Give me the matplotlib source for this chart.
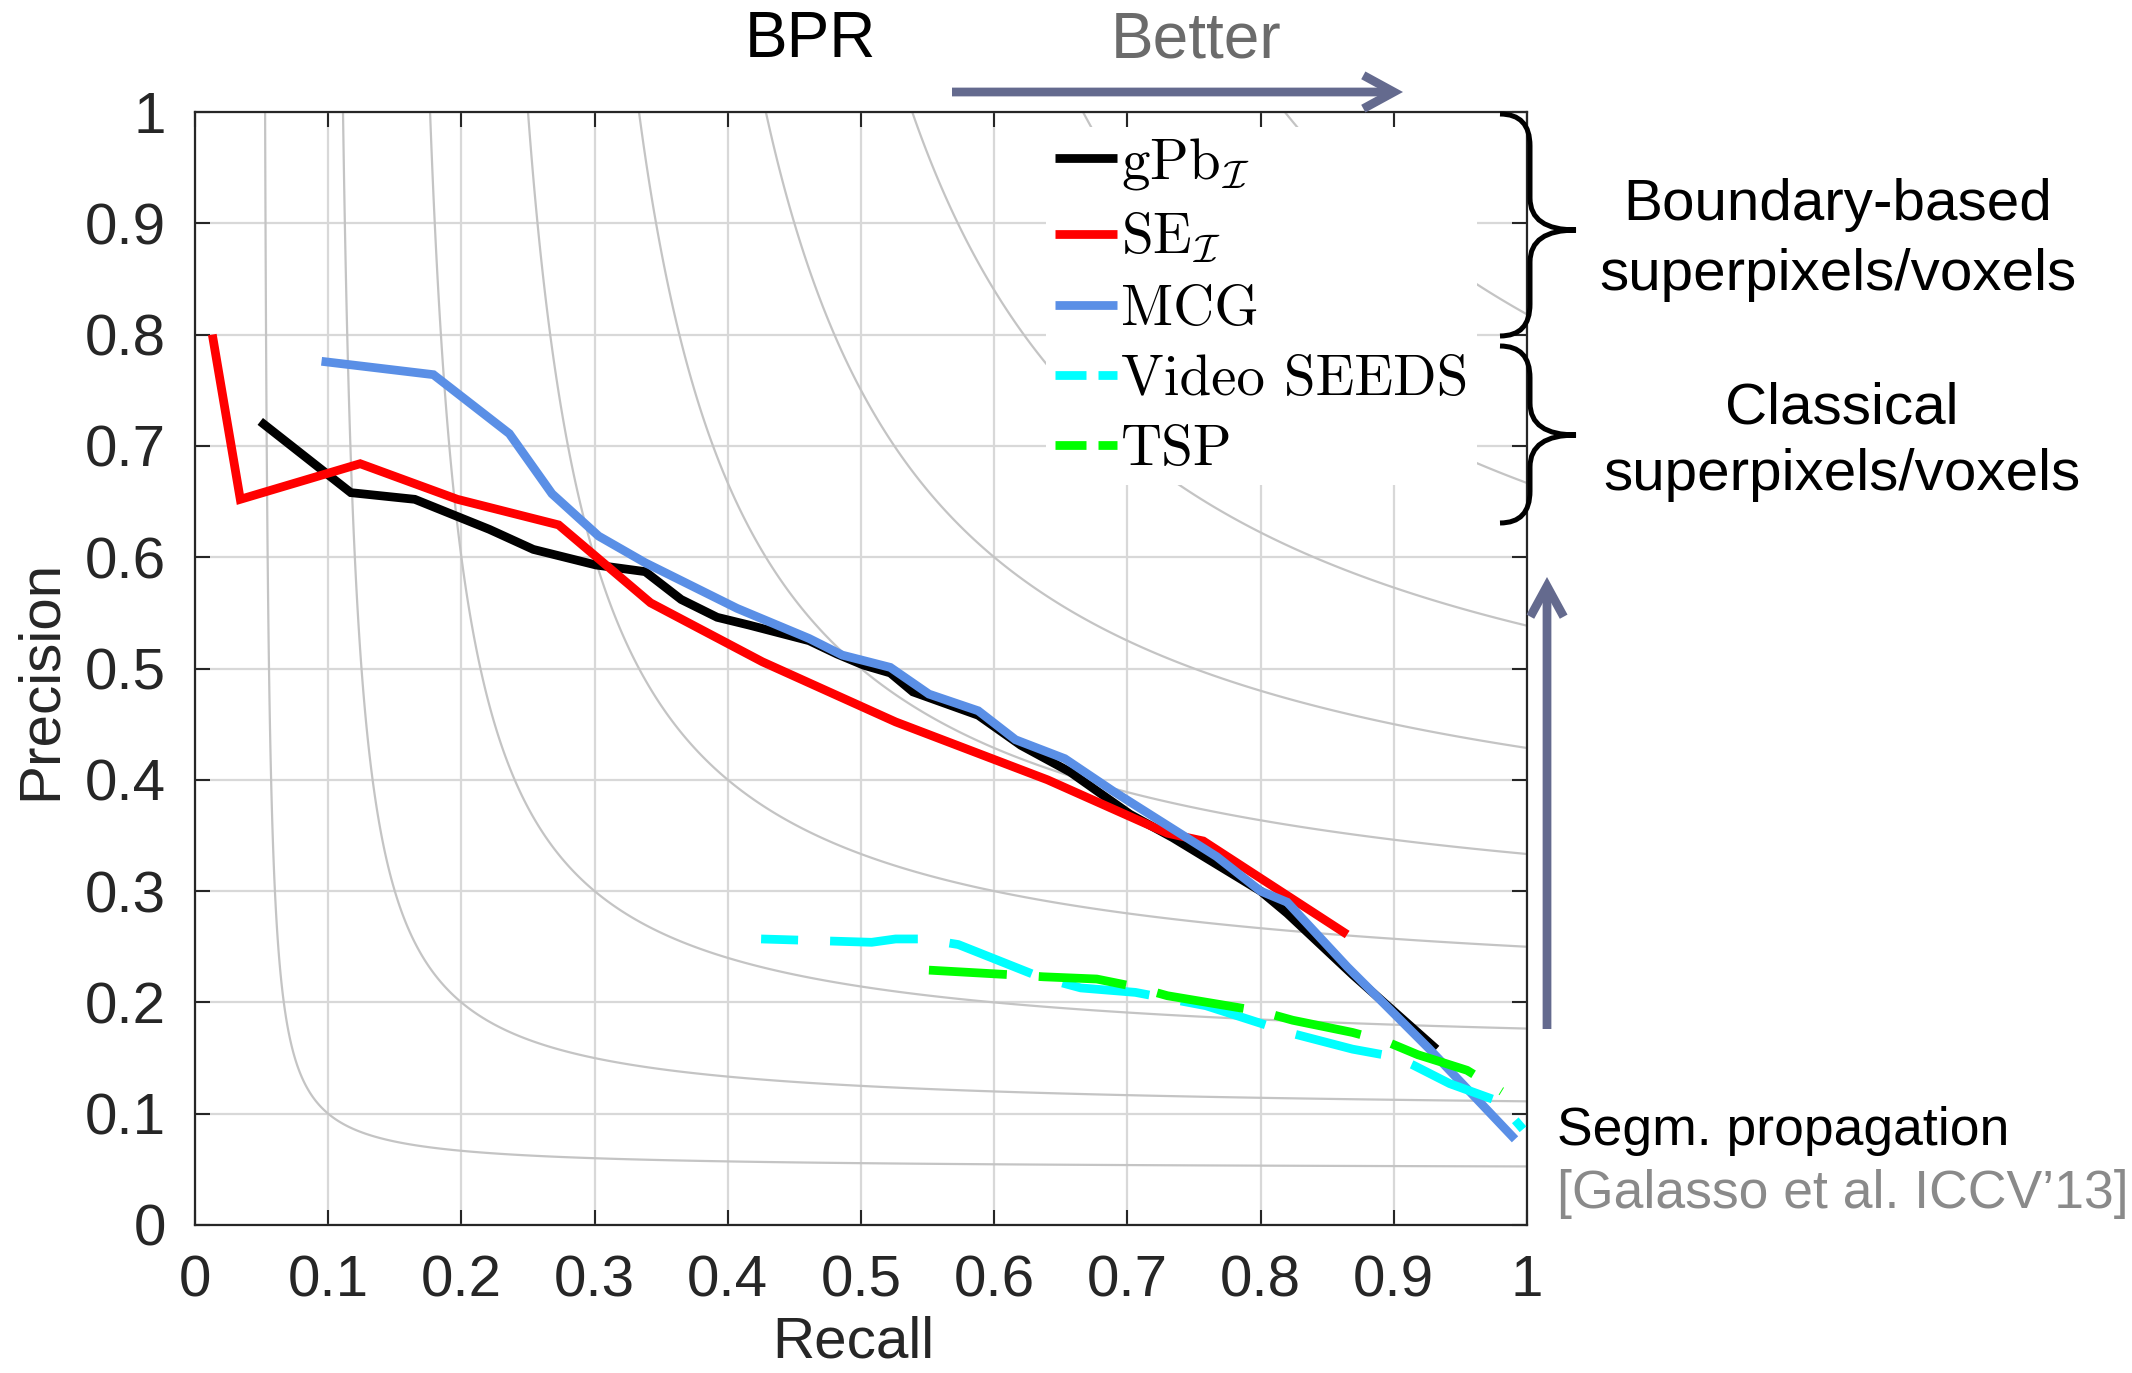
import numpy as np
import matplotlib
matplotlib.use("Agg")
import matplotlib.pyplot as plt
from matplotlib.lines import Line2D
from matplotlib.path import Path
from matplotlib.patches import PathPatch, FancyArrowPatch

plt.rcParams['font.family'] = ['Liberation Sans', 'DejaVu Sans']
plt.rcParams['mathtext.fontset'] = 'cm'

# ---------------- data ----------------
GPB_RECALL = [0.049, 0.117, 0.165, 0.221, 0.254, 0.301, 0.338, 0.365, 0.392, 0.416,
              0.461, 0.482, 0.502, 0.522, 0.539, 0.588, 0.620, 0.657, 0.702, 0.734,
              0.800, 0.820, 0.869, 0.932]
GPB_PRECISION = [0.722, 0.658, 0.652, 0.625, 0.607, 0.593, 0.587, 0.562, 0.546, 0.539,
                 0.525, 0.513, 0.503, 0.496, 0.479, 0.458, 0.431, 0.407, 0.369, 0.348,
                 0.300, 0.280, 0.225, 0.158]

SE_RECALL = [0.013, 0.034, 0.124, 0.197, 0.273, 0.342, 0.426, 0.526, 0.640, 0.730, 0.757, 0.865]
SE_PRECISION = [0.800, 0.652, 0.684, 0.652, 0.629, 0.559, 0.506, 0.452, 0.400, 0.352, 0.345, 0.261]

MCG_RECALL = [0.095, 0.179, 0.236, 0.268, 0.303, 0.338, 0.407, 0.461, 0.486, 0.522, 0.551,
              0.588, 0.616, 0.653, 0.689, 0.726, 0.767, 0.800, 0.820, 0.865, 0.926, 0.991]
MCG_PRECISION = [0.776, 0.764, 0.711, 0.657, 0.619, 0.595, 0.554, 0.527, 0.512, 0.501, 0.477,
                 0.462, 0.436, 0.419, 0.390, 0.362, 0.331, 0.300, 0.290, 0.232, 0.159, 0.077]

VSEEDS_RECALL = [0.425, 0.508, 0.526, 0.547, 0.573, 0.634, 0.665, 0.706, 0.759, 0.824,
                 0.869, 0.901, 0.914, 0.942, 0.979, 0.997]
VSEEDS_PRECISION = [0.257, 0.254, 0.257, 0.257, 0.252, 0.223, 0.213, 0.209, 0.197, 0.172,
                    0.158, 0.151, 0.144, 0.127, 0.111, 0.086]

TSP_RECALL = [0.551, 0.610, 0.637, 0.677, 0.706, 0.730, 0.800, 0.824, 0.869, 0.894,
              0.918, 0.934, 0.955, 0.981]
TSP_PRECISION = [0.229, 0.225, 0.223, 0.221, 0.214, 0.206, 0.192, 0.184, 0.173, 0.165,
                 0.153, 0.147, 0.139, 0.120]

F_LEVELS = [0.1, 0.2, 0.3, 0.4, 0.5, 0.6, 0.7, 0.8, 0.9]
TICKS = [0, 0.1, 0.2, 0.3, 0.4, 0.5, 0.6, 0.7, 0.8, 0.9, 1.0]
TICK_LABELS = ['0', '0.1', '0.2', '0.3', '0.4', '0.5', '0.6', '0.7', '0.8', '0.9', '1']
SERIES_LABELS = [r'gPb$_{\mathcal{I}}$', r'SE$_{\mathcal{I}}$', 'MCG', 'Video SEEDS', 'TSP']

# ---------------- layout ----------------
W, H = 2132, 1373
fig = plt.figure(figsize=(W / 100, H / 100), dpi=100)
ax = fig.add_axes([195 / W, 1 - 1225 / H, 1332 / W, 1113 / H])


def fx(px):
    return px / W


def fy(py):
    return 1 - py / H


LW = 6.3
LW_PX = LW * 100 / 72
AX_COL = '#262626'

# iso-F curves
g = np.linspace(0.0005, 1.0, 900)
RR, PP = np.meshgrid(g, g)
FF = 2 * PP * RR / (PP + RR)
ax.contour(RR, PP, FF, levels=F_LEVELS, colors='#c4c4c4', linewidths=1.6, zorder=1)

common = dict(lw=LW, solid_capstyle='butt', dash_capstyle='butt', solid_joinstyle='miter', zorder=3)
ax.plot(GPB_RECALL, GPB_PRECISION, color='black', **common)
ax.plot(SE_RECALL, SE_PRECISION, color='#ff0000', **common)
ax.plot(MCG_RECALL, MCG_PRECISION, color='#5a8fe6', **common)
on, off = 88 / LW_PX, 32 / LW_PX
ax.plot(VSEEDS_RECALL, VSEEDS_PRECISION, color='#00ffff', ls=(51 / LW_PX, (on, off)), **common)
ax.plot(TSP_RECALL, TSP_PRECISION, color='#00ff00', ls=(10 / LW_PX, (on, off)), **common)

ax.set_xlim(0, 1)
ax.set_ylim(0, 1)
ax.set_xticks(TICKS)
ax.set_xticklabels(TICK_LABELS)
ax.set_yticks(TICKS)
ax.set_yticklabels(TICK_LABELS)
ax.grid(True, color='#d8d8d8', lw=1.6, zorder=0)
ax.set_axisbelow(True)
ax.tick_params(direction='in', length=11, width=1.5, top=True, right=True,
               labelsize=42, pad=21, colors=AX_COL)
for s in ax.spines.values():
    s.set_linewidth(1.6)
    s.set_color(AX_COL)

ax.set_xlabel('Recall', fontsize=42, color=AX_COL)
ax.set_ylabel('Precision', fontsize=42, color=AX_COL)
ax.xaxis.set_label_coords((853 - 195) / 1332, (1225 - 1316) / 1113)
ax.yaxis.set_label_coords((68 - 195) / 1332, (1225 - 680) / 1113)

# legend (proxy handles with legend-style dashes)
lon, loff = 31 / LW_PX, 12 / LW_PX
handles = [
    Line2D([], [], color='black', lw=LW, solid_capstyle='butt'),
    Line2D([], [], color='#ff0000', lw=LW, solid_capstyle='butt'),
    Line2D([], [], color='#5a8fe6', lw=LW, solid_capstyle='butt'),
    Line2D([], [], color='#00ffff', lw=LW, ls=(0, (lon, loff)), dash_capstyle='butt'),
    Line2D([], [], color='#00ff00', lw=LW, ls=(0, (lon, loff)), dash_capstyle='butt'),
]
leg = ax.legend(handles, SERIES_LABELS, loc='upper left',
                bbox_to_anchor=(fx(1046), fy(127)), bbox_transform=fig.transFigure,
                prop={'family': 'cmr10', 'size': 41}, handlelength=1.1,
                handletextpad=0.06, labelspacing=0.335, borderpad=0.15,
                borderaxespad=0, frameon=True, fancybox=False, facecolor='white',
                edgecolor='white', framealpha=1)
leg.get_frame().set_linewidth(0)

# titles / annotations
fig.text(fx(810), fy(40), 'BPR', fontsize=46, ha='center', va='center', color='black')
fig.text(fx(1196), fy(40), 'Better', fontsize=46, ha='center', va='center', color='#6b6b6b')

ARROW_COL = '#646a8e'
for (a, b) in [((952, 92), (1403, 92)), ((1547, 1029), (1547, 577))]:
    arr = FancyArrowPatch((fx(a[0]), fy(a[1])), (fx(b[0]), fy(b[1])),
                          transform=fig.transFigure,
                          arrowstyle='->,head_length=1.1,head_width=0.6',
                          mutation_scale=20, lw=6.3, color=ARROW_COL,
                          shrinkA=0, shrinkB=0, capstyle='butt', joinstyle='miter')
    fig.add_artist(arr)


def brace(xl, xs, xt, yt, yb, ym, r):
    pts = [(xl, yt), (xs, yt), (xs, yt + r), (xs, ym - r), (xs, ym), (xt, ym),
           (xs, ym), (xs, ym + r), (xs, yb - r), (xs, yb), (xl, yb)]
    codes = [Path.MOVETO, Path.CURVE3, Path.CURVE3, Path.LINETO, Path.CURVE3, Path.CURVE3,
             Path.CURVE3, Path.CURVE3, Path.LINETO, Path.CURVE3, Path.CURVE3]
    verts = [(fx(x), fy(y)) for x, y in pts]
    fig.add_artist(PathPatch(Path(verts, codes), transform=fig.transFigure,
                             fill=False, lw=3.6, color='black', capstyle='butt'))


brace(1500, 1530, 1576, 114, 336, 230, 32)
brace(1500, 1530, 1576, 346, 523, 435, 32)

fig.text(fx(1838), fy(205), 'Boundary-based', fontsize=42, ha='center', va='center')
fig.text(fx(1838), fy(275), 'superpixels/voxels', fontsize=42, ha='center', va='center')
fig.text(fx(1842), fy(408), 'Classical', fontsize=42, ha='center', va='center')
fig.text(fx(1842), fy(475), 'superpixels/voxels', fontsize=42, ha='center', va='center')

fig.text(fx(1557), fy(1131), 'Segm. propagation', fontsize=38.5, ha='left', va='center',
         color='black')
fig.text(fx(1557), fy(1194), '[Galasso et al. ICCV\u201913]', fontsize=38.5, ha='left',
         va='center', color='#8a8a8a')

fig.savefig('out.png', dpi=100)
